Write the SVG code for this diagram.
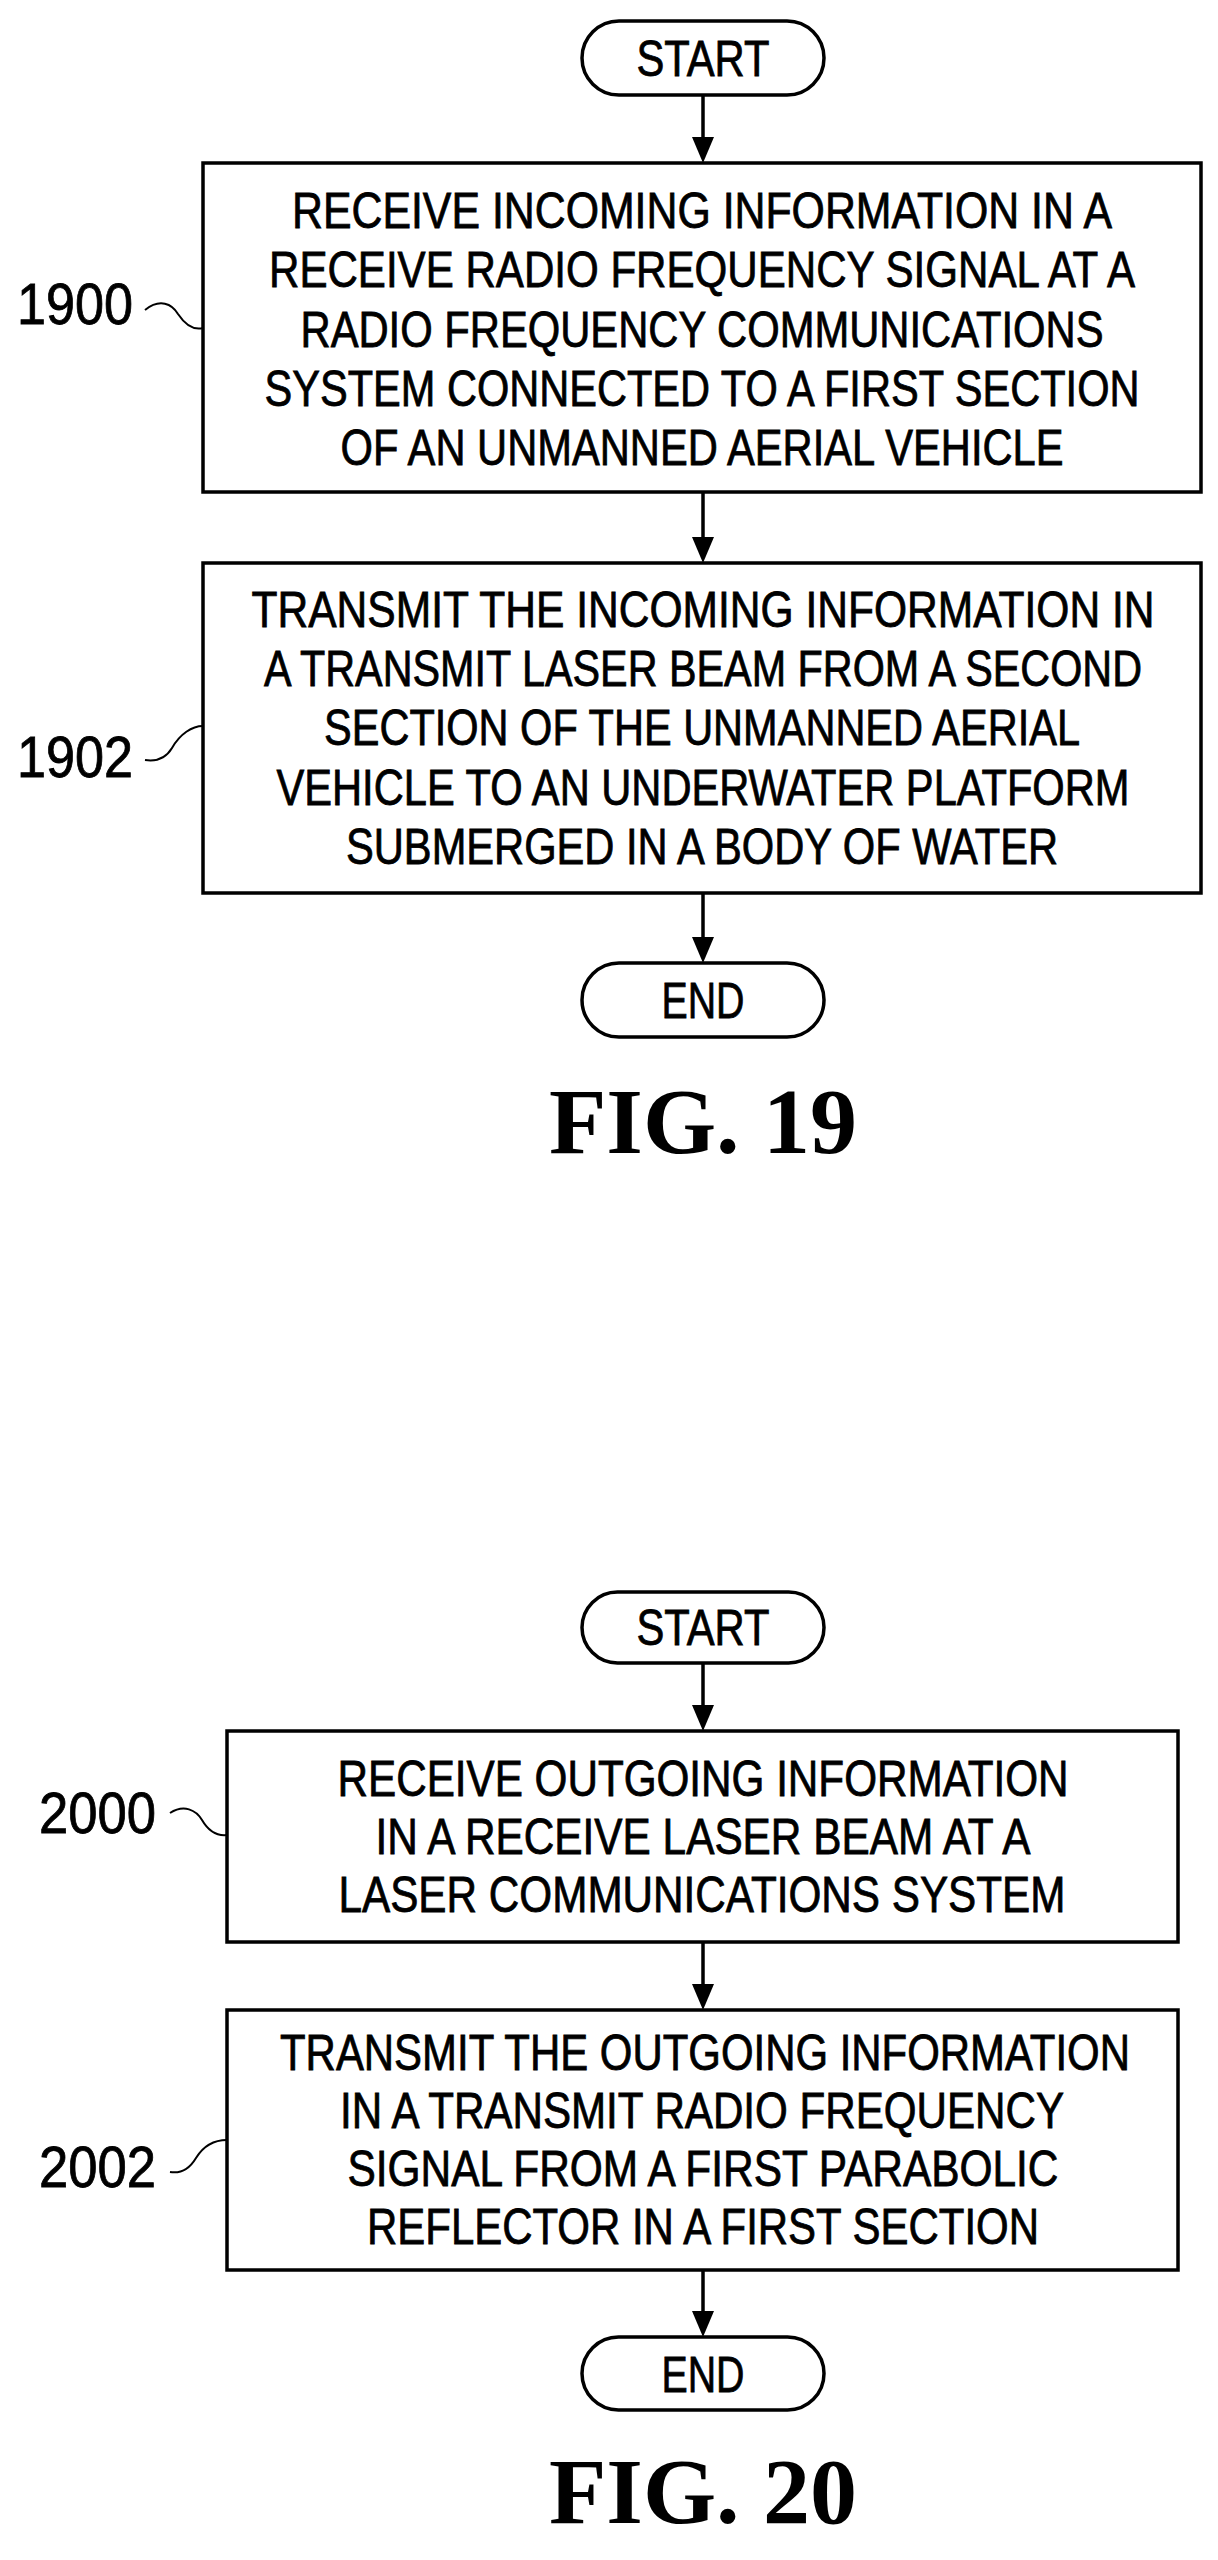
<svg xmlns="http://www.w3.org/2000/svg" width="1218" height="2560" viewBox="0 0 1218 2560">
<style>
.b{fill:#fff;stroke:#000;stroke-width:3.5}
.t{font-family:"Liberation Sans",Arial,sans-serif;font-size:50px;text-anchor:middle;fill:#000;stroke:#000;stroke-width:0.8}
.l{font-family:"Liberation Sans",Arial,sans-serif;font-size:58px;fill:#000;stroke:#000;stroke-width:0.8}
.f{font-family:"Liberation Serif","Times New Roman",serif;font-size:94px;font-weight:bold;text-anchor:middle;fill:#000}
.c{fill:none;stroke:#000;stroke-width:3.5}
.s{fill:none;stroke:#000;stroke-width:2}
</style>
<g id="connectors">
<path class="c" d="M703 95 V140"/><path d="M692 137 L714 137 L703 163 z"/>
<path class="c" d="M703 492 V540"/><path d="M692 537 L714 537 L703 563 z"/>
<path class="c" d="M703 893 V940"/><path d="M692 937 L714 937 L703 963 z"/>
<path class="c" d="M703 1663 V1708"/><path d="M692 1705 L714 1705 L703 1731 z"/>
<path class="c" d="M703 1942 V1987"/><path d="M692 1984 L714 1984 L703 2010 z"/>
<path class="c" d="M703 2270 V2314"/><path d="M692 2311 L714 2311 L703 2337 z"/>
</g>
<g id="start1"><rect class="b" x="582" y="21" width="242" height="74" rx="37"/><text class="t" x="703" y="76" textLength="133" lengthAdjust="spacingAndGlyphs">START</text></g>
<g id="n1900"><rect class="b" x="203" y="163" width="998" height="329"/>
<text class="t" x="702" y="228" textLength="820" lengthAdjust="spacingAndGlyphs">RECEIVE INCOMING INFORMATION IN A</text>
<text class="t" x="702" y="287" textLength="866" lengthAdjust="spacingAndGlyphs">RECEIVE RADIO FREQUENCY SIGNAL AT A</text>
<text class="t" x="702" y="347" textLength="803" lengthAdjust="spacingAndGlyphs">RADIO FREQUENCY COMMUNICATIONS</text>
<text class="t" x="702" y="406" textLength="875" lengthAdjust="spacingAndGlyphs">SYSTEM CONNECTED TO A FIRST SECTION</text>
<text class="t" x="702" y="465" textLength="723" lengthAdjust="spacingAndGlyphs">OF AN UNMANNED AERIAL VEHICLE</text>
<text class="l" x="17" y="324" textLength="116" lengthAdjust="spacingAndGlyphs">1900</text>
<path class="s" d="M145 310 C160 298,172 304,178 314 C186 326,195 330,203 328"/></g>
<g id="n1902"><rect class="b" x="203" y="563" width="998" height="330"/>
<text class="t" x="703" y="627" textLength="903" lengthAdjust="spacingAndGlyphs">TRANSMIT THE INCOMING INFORMATION IN</text>
<text class="t" x="703" y="686" textLength="878" lengthAdjust="spacingAndGlyphs">A TRANSMIT LASER BEAM FROM A SECOND</text>
<text class="t" x="702" y="745" textLength="756" lengthAdjust="spacingAndGlyphs">SECTION OF THE UNMANNED AERIAL</text>
<text class="t" x="703" y="805" textLength="853" lengthAdjust="spacingAndGlyphs">VEHICLE TO AN UNDERWATER PLATFORM</text>
<text class="t" x="702" y="864" textLength="712" lengthAdjust="spacingAndGlyphs">SUBMERGED IN A BODY OF WATER</text>
<text class="l" x="17" y="777" textLength="116" lengthAdjust="spacingAndGlyphs">1902</text>
<path class="s" d="M145 760 C158 762,166 758,172 748 C180 734,192 726,203 726"/></g>
<g id="end1"><rect class="b" x="582" y="963" width="242" height="74" rx="37"/><text class="t" x="703" y="1018" textLength="83" lengthAdjust="spacingAndGlyphs">END</text></g>
<text class="f" x="703" y="1153">FIG. 19</text>
<g id="start2"><rect class="b" x="582" y="1592" width="242" height="71" rx="35.5"/><text class="t" x="703" y="1645" textLength="133" lengthAdjust="spacingAndGlyphs">START</text></g>
<g id="n2000"><rect class="b" x="227" y="1731" width="951" height="211"/>
<text class="t" x="703" y="1796" textLength="731" lengthAdjust="spacingAndGlyphs">RECEIVE OUTGOING INFORMATION</text>
<text class="t" x="703" y="1854" textLength="655" lengthAdjust="spacingAndGlyphs">IN A RECEIVE LASER BEAM AT A</text>
<text class="t" x="702" y="1912" textLength="727" lengthAdjust="spacingAndGlyphs">LASER  COMMUNICATIONS SYSTEM</text>
<text class="l" x="39" y="1833" textLength="117" lengthAdjust="spacingAndGlyphs">2000</text>
<path class="s" d="M170 1813 C184 1804,196 1810,202 1820 C209 1832,218 1836,227 1835"/></g>
<g id="n2002"><rect class="b" x="227" y="2010" width="951" height="260"/>
<text class="t" x="705" y="2070" textLength="850" lengthAdjust="spacingAndGlyphs">TRANSMIT THE OUTGOING INFORMATION</text>
<text class="t" x="702" y="2128" textLength="724" lengthAdjust="spacingAndGlyphs">IN A TRANSMIT RADIO FREQUENCY</text>
<text class="t" x="703" y="2186" textLength="711" lengthAdjust="spacingAndGlyphs">SIGNAL FROM A FIRST PARABOLIC</text>
<text class="t" x="703" y="2244" textLength="672" lengthAdjust="spacingAndGlyphs">REFLECTOR IN A FIRST SECTION</text>
<text class="l" x="39" y="2187" textLength="117" lengthAdjust="spacingAndGlyphs">2002</text>
<path class="s" d="M170 2172 C182 2174,190 2168,196 2158 C204 2145,215 2140,227 2140"/></g>
<g id="end2"><rect class="b" x="582" y="2337" width="242" height="73" rx="36.5"/><text class="t" x="703" y="2392" textLength="83" lengthAdjust="spacingAndGlyphs">END</text></g>
<text class="f" x="703" y="2523">FIG. 20</text>
</svg>
